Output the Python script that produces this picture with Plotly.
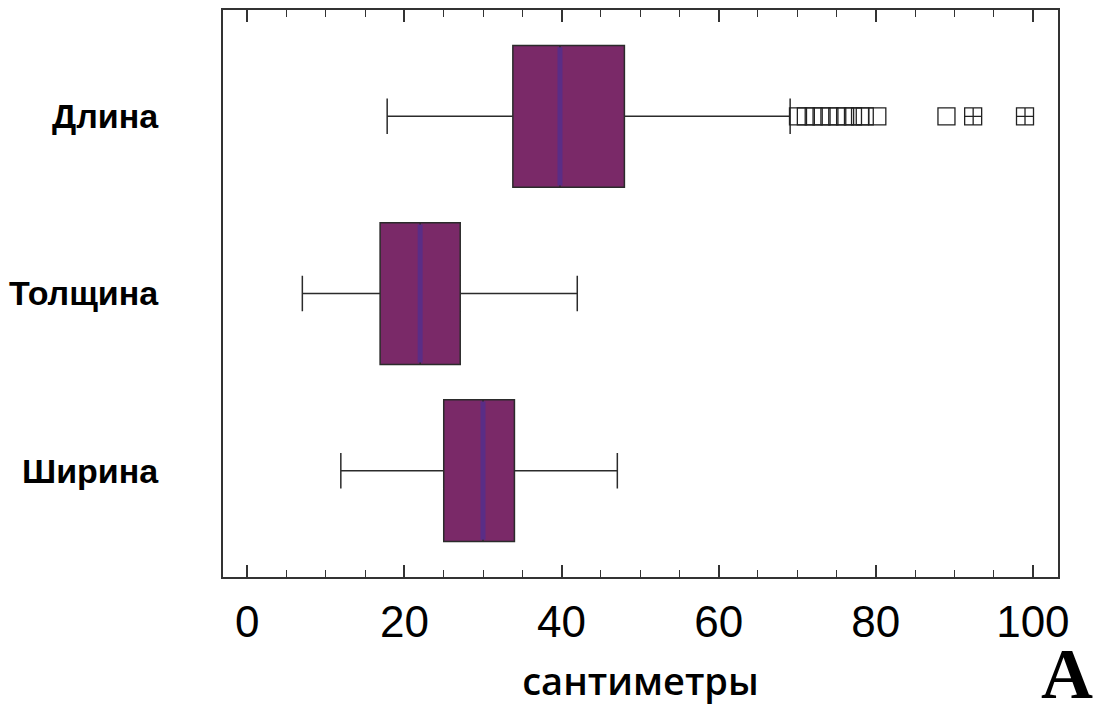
import plotly.graph_objects as go

# ---- data ----
categories = ["Длина", "Толщина", "Ширина"]
lower_whisker = [17.8, 7.0, 11.9]
q1_vals = [33.8, 16.9, 25.0]
medians = [39.8, 22.0, 30.0]
q3_vals = [48.0, 27.1, 34.0]
upper_whisker = [69.1, 42.0, 47.1]

# outliers (only for "Длина")
outliers_len = [70.1, 71.1, 72.1, 73.1, 74.1, 75.1, 76.1, 77.1, 78.0, 78.6, 80.2, 89.0, 92.4, 99.0]
outlier_multi = [False] * 11 + [False, True, True]

x_tick_vals = [0, 20, 40, 60, 80, 100]
x_title = "сантиметры"
panel_letter = "A"

positions = list(range(len(categories)))
box_width = 0.8

fill_col = "#7a2968"
median_col = "#5a2d86"
edge_col = "#2b2b2b"

fig = go.Figure()

fig.add_trace(go.Box(
    y=positions,
    q1=q1_vals, median=medians, q3=q3_vals,
    lowerfence=lower_whisker, upperfence=upper_whisker,
    orientation="h",
    width=box_width,
    whiskerwidth=0.25,
    fillcolor=fill_col,
    line=dict(color=edge_col, width=1.5),
    boxpoints=False,
    showlegend=False,
))

# median lines in a bluish purple
mx, my = [], []
for p, m in zip(positions, medians):
    mx += [m, m, None]
    my += [p - box_width / 2 + 0.01, p + box_width / 2 - 0.01, None]
fig.add_trace(go.Scatter(x=mx, y=my, mode="lines",
                         line=dict(color=median_col, width=5),
                         showlegend=False, hoverinfo="skip"))

# outliers
fig.add_trace(go.Scatter(
    x=outliers_len, y=[positions[0]] * len(outliers_len),
    mode="markers",
    marker=dict(symbol=["square-cross-open" if m else "square-open" for m in outlier_multi],
                size=17, color="#222222", line=dict(width=1.3, color="#222222")),
    showlegend=False,
))

fig.update_layout(
    width=1097, height=708,
    margin=dict(l=215, r=47, t=2, b=139),
    paper_bgcolor="white", plot_bgcolor="white",
    font=dict(family="Liberation Sans, Arial, sans-serif", color="black"),
)

fig.update_xaxes(
    range=[-3.1, 103.2],
    tickvals=x_tick_vals,
    ticks="inside", ticklen=12, tickwidth=1.5, tickcolor="#333",
    minor=dict(dtick=5, tick0=0, ticks="inside", ticklen=7, tickwidth=1.2, tickcolor="#333"),
    showline=True, linecolor="#333", linewidth=2, mirror="ticks",
    showgrid=False, zeroline=False, automargin=False,
    tickfont=dict(size=44, family="Liberation Sans, Arial, sans-serif"),
    ticklabelstandoff=5,
    title=dict(text=x_title, font=dict(size=38, family="Open Sans, sans-serif", weight=600), standoff=24),
)

fig.update_yaxes(
    range=[2.6, -0.6],
    tickvals=positions, ticktext=categories,
    ticks="", showline=True, linecolor="#333", linewidth=2, mirror=True,
    showgrid=False, zeroline=False, automargin=False,
    tickfont=dict(size=34, family="Liberation Sans, Arial, sans-serif", weight="bold"),
    ticklabelstandoff=56,
)

fig.add_annotation(
    text=panel_letter, xref="paper", yref="paper",
    x=1.044, y=-0.245, xanchor="right", yanchor="bottom", showarrow=False,
    font=dict(size=72, family="Liberation Serif, Times New Roman, serif", weight="bold"),
)

fig.write_html("out.html")
